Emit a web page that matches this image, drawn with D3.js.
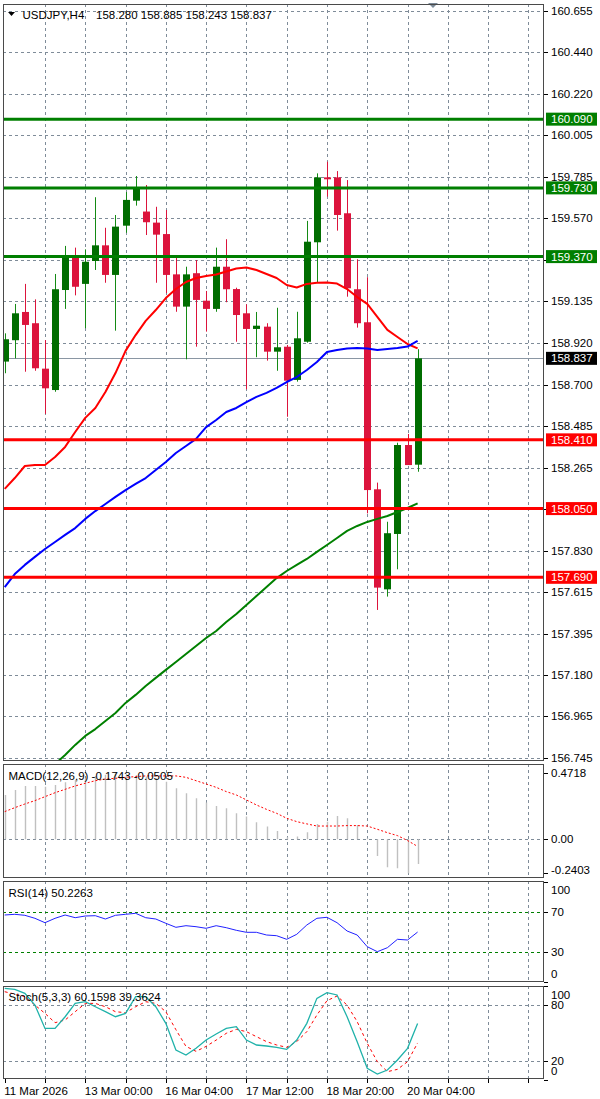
<!DOCTYPE html>
<html><head><meta charset="utf-8">
<script src="https://cdn.jsdelivr.net/npm/d3@7"></script>
<style>
body{margin:0;background:#fff}
svg{display:block}
text{font-family:"Liberation Sans",Arial,sans-serif;font-size:11.5px;fill:#000}
</style>
</head><body>
<svg id="chart" width="600" height="1099"></svg>
<script>
// ---------- DATA ----------
const symbolLabel = "USDJPY,H4";
const lastOHLC = "158.280 158.885 158.243 158.837";
const opens  = [158.820,158.932,159.080,159.021,158.783,158.671,159.195,159.370,159.227,159.347,159.429,159.274,159.532,159.663,159.606,159.548,159.488,159.277,159.108,159.283,159.139,159.096,159.317,159.200,159.073,158.991,159.003,158.872,158.898,158.724,158.924,159.445,159.785,159.785,159.597,159.199,159.026,158.151,157.627,157.917,158.383,158.280];
const highs  = [158.968,159.122,159.227,159.146,158.933,159.279,159.426,159.417,159.408,159.681,159.521,159.588,159.708,159.792,159.745,159.631,159.614,159.375,159.317,159.352,159.190,159.417,159.461,159.207,159.120,159.080,159.021,159.102,158.907,159.081,159.557,159.806,159.867,159.818,159.771,159.356,159.262,158.186,157.981,158.395,158.441,158.885];
const lows   = [158.759,158.837,158.767,158.772,158.546,158.662,159.096,159.167,158.995,159.300,159.233,158.982,159.495,159.637,159.483,159.233,159.179,159.081,158.832,158.898,158.977,159.081,159.131,158.924,158.675,158.843,158.825,158.772,158.531,158.715,158.919,159.233,159.684,159.506,159.160,158.998,158.025,157.519,157.589,157.732,158.278,158.243];
const closes = [158.937,159.073,159.012,158.785,158.680,159.199,159.366,159.212,159.343,159.429,159.274,159.527,159.667,159.728,159.550,159.485,159.274,159.108,159.277,159.143,159.096,159.317,159.199,159.064,158.991,159.008,158.872,158.895,158.720,158.942,159.448,159.785,159.775,159.588,159.204,159.021,158.147,157.636,157.921,158.383,158.278,158.837];

const maRed   = [158.153,158.210,158.273,158.278,158.278,158.320,158.373,158.451,158.525,158.577,158.661,158.760,158.876,158.959,159.033,159.090,159.153,159.200,159.237,159.258,159.268,159.276,159.292,159.308,159.313,159.300,159.279,159.258,159.221,159.208,159.227,159.233,159.234,159.229,159.200,159.158,159.122,159.054,158.986,158.949,158.912,158.889];
const maBlue  = [157.639,157.707,157.755,157.797,157.838,157.875,157.912,157.948,157.996,158.037,158.074,158.111,158.147,158.179,158.210,158.252,158.294,158.341,158.378,158.415,158.477,158.514,158.556,158.577,158.608,158.635,158.656,158.682,158.713,158.739,158.776,158.818,158.870,158.881,158.889,158.891,158.889,158.881,158.886,158.891,158.899,158.928];
const maGreen = [null,null,null,null,null,156.712,156.759,156.812,156.859,156.895,156.937,156.979,157.032,157.074,157.121,157.163,157.205,157.246,157.288,157.330,157.372,157.409,157.456,157.498,157.545,157.592,157.639,157.686,157.723,157.755,157.786,157.823,157.859,157.896,157.933,157.959,157.980,157.996,158.011,158.032,158.053,158.077];

const resistanceLevels = [160.090,159.730,159.370];
const supportLevels    = [158.410,158.050,157.690];
const lastPrice = 158.837;

const priceTicks = [160.655,160.440,160.220,160.005,159.785,159.570,159.350,159.135,158.920,158.700,158.485,158.265,158.050,157.830,157.615,157.395,157.180,156.965,156.745];

const macdLabel = "MACD(12,26,9) -0.1743 -0.0505";
const macdHist   = [0.314,0.349,0.378,0.378,0.373,0.385,0.404,0.420,0.432,0.448,0.458,0.4718,0.465,0.455,0.444,0.432,0.408,0.361,0.326,0.290,0.260,0.236,0.220,0.184,0.161,0.120,0.090,0.059,0.014,0.019,0.050,0.109,0.125,0.165,0.149,0.102,0.007,-0.118,-0.198,-0.205,-0.2403,-0.1743];
const macdSignal = [0.196,0.224,0.250,0.274,0.302,0.330,0.354,0.378,0.397,0.415,0.427,0.432,0.439,0.444,0.449,0.449,0.449,0.449,0.439,0.415,0.392,0.368,0.338,0.314,0.279,0.243,0.212,0.184,0.149,0.125,0.109,0.094,0.094,0.094,0.097,0.097,0.094,0.071,0.047,0.026,-0.009,-0.0505];
const macdTicks = [0.4718, 0.00, -0.2403];

const rsiLabel = "RSI(14) 50.2263";
const rsiValues = [67.3,68,67,64,59.6,64,67.3,64.6,66.3,66.6,63.3,67,68,69,64.6,63.3,59,55,56.6,55.6,54,56.6,54.6,52,50,50,47.3,46.6,43,48,57.3,64,65,59.6,51.3,47.3,35.6,30.6,34.6,43,42.3,50.2263];
const rsiLevels = [70, 30];
const rsiTicks = [100, 70, 30, 0];

const stochLabel = "Stoch(5,3,3) 60.1598 39.3624";
const stochMain   = [97.9,96.8,92.5,80,55,55,67.5,81.8,83.6,78.2,72.9,67.5,71.1,89,89,78.2,60.4,31.8,26.5,33.6,42.5,49,55,56.8,42.5,37.2,36.1,34.7,32.5,42.5,60.4,87.2,93.3,90.8,67.5,40.7,12.2,6.1,10.4,21.1,33.6,60.1598];
const stochSignal = [94.3,91.8,89,80,71.1,61.1,64,72.9,81.8,81.8,78.2,72.9,71.8,78.2,83.6,81.8,72.9,53.6,35.7,30.4,35.7,42.5,49.7,54,51.5,46.1,40.8,37.2,34.7,40.8,51.5,69.3,84.7,89.7,80,62.2,39,19.3,8.6,11.1,19.3,39.3624];
const stochLevels = [80, 20];
const stochTicks = [100, 80, 20, 0];

const timeLabels = ["11 Mar 2026","13 Mar 00:00","16 Mar 04:00","17 Mar 12:00","18 Mar 20:00","20 Mar 04:00"];
const timeLabelBars = [0, 8, 16, 24, 32, 40];

// ---------- LAYOUT ----------
const svg = d3.select("#chart");
const L = 3, R = 544;
const panels = {
  main:  {top:4,   bottom:761},
  macd:  {top:764, bottom:878},
  rsi:   {top:881, bottom:982},
  stoch: {top:986, bottom:1079}
};
const n = closes.length;
const x = d3.scaleLinear().domain([0, n-1]).range([4.7, 417.6]);
const yMain  = d3.scaleLinear().domain([156.745, 160.655]).range([757.7, 11.3]);
const yMacd  = d3.scaleLinear().domain([-0.2403, 0.4718]).range([873.2, 772.7]);
const yRsi   = d3.scaleLinear().domain([0, 100]).range([982.3, 882.3]);
const yStoch = d3.scaleLinear().domain([0, 100]).range([1079.7, 986.4]);

const gridColor = "#7f8c99";
const defs = svg.append("defs");
Object.entries(panels).forEach(([k,p])=>{
  defs.append("clipPath").attr("id","clip-"+k).append("rect")
    .attr("x",L+0.5).attr("y",p.top+0.5).attr("width",R-L-1).attr("height",p.bottom-p.top-1);
});

const gridBars = d3.range(4, 56, 4).filter(i => x(i) < R-2);
const crisp = v => Math.round(v)+0.5;

function panelGrid(key, yTicksPos){
  const p = panels[key];
  const g = svg.append("g").attr("clip-path",`url(#clip-${key})`);
  g.selectAll("line.v").data(gridBars).join("line")
    .attr("x1",d=>crisp(x(d))).attr("x2",d=>crisp(x(d)))
    .attr("y1",p.top).attr("y2",p.bottom)
    .attr("stroke",gridColor).attr("stroke-dasharray","3,3").attr("stroke-width",1);
  g.selectAll("line.h").data(yTicksPos).join("line")
    .attr("x1",L).attr("x2",R).attr("y1",d=>crisp(d)).attr("y2",d=>crisp(d))
    .attr("stroke",gridColor).attr("stroke-dasharray","3,3").attr("stroke-width",1);
  return g;
}

// ---------- MAIN PANEL ----------
const gMain = panelGrid("main", priceTicks.map(yMain));
gMain.append("line").attr("x1",L).attr("x2",R)
  .attr("y1",crisp(yMain(lastPrice))).attr("y2",crisp(yMain(lastPrice)))
  .attr("stroke","#8a96a3").attr("stroke-width",1);

const bars = d3.range(n);
const bull = "#006d00", bear = "#dc143c";
gMain.selectAll("line.wick").data(bars).join("line")
  .attr("x1",i=>crisp(x(i))).attr("x2",i=>crisp(x(i)))
  .attr("y1",i=>yMain(highs[i])).attr("y2",i=>yMain(lows[i]))
  .attr("stroke",i=>closes[i]>=opens[i]?"#148a14":bear).attr("stroke-width",1);
gMain.selectAll("rect.body").data(bars).join("rect")
  .attr("x",i=>Math.round(x(i))-3).attr("width",7)
  .attr("y",i=>yMain(Math.max(opens[i],closes[i])))
  .attr("height",i=>Math.max(1.5, Math.abs(yMain(opens[i])-yMain(closes[i]))))
  .attr("fill",i=>closes[i]>=opens[i]?bull:bear);

const lineMain = arr => d3.line().defined(i=>arr[i]!=null).x(i=>x(i)).y(i=>yMain(arr[i]))(bars);
[[maRed,"#ff0000"],[maBlue,"#0000ff"],[maGreen,"#008000"]].forEach(([arr,c])=>{
  gMain.append("path").attr("d",lineMain(arr)).attr("fill","none")
    .attr("stroke",c).attr("stroke-width",2).attr("stroke-linejoin","round");
});

const lvlG = "#007f00", lvlR = "#ff0000";
gMain.selectAll("line.res").data(resistanceLevels).join("line")
  .attr("x1",L).attr("x2",R).attr("y1",d=>yMain(d)).attr("y2",d=>yMain(d))
  .attr("stroke",lvlG).attr("stroke-width",3);
gMain.selectAll("line.sup").data(supportLevels).join("line")
  .attr("x1",L).attr("x2",R).attr("y1",d=>yMain(d)).attr("y2",d=>yMain(d))
  .attr("stroke",lvlR).attr("stroke-width",3);

// header
svg.append("path").attr("d","M8,12 L15,12 L11.5,16 Z").attr("fill","#000");
svg.append("text").attr("x",22.5).attr("y",15).attr("dy","0.35em").text(symbolLabel);
svg.append("text").attr("x",96).attr("y",15).attr("dy","0.35em").text(lastOHLC);
svg.append("path").attr("d","M428,3 L438,3 L433,8 Z").attr("fill","#7d8b99");

// axis labels
const boxValues = resistanceLevels.concat(supportLevels, [lastPrice]);
function rightAxis(ticks, scale, fmt, clampP, hideNear){
  const g = svg.append("g");
  g.selectAll("line").data(ticks).join("line")
    .attr("x1",R).attr("x2",R+4).attr("y1",d=>crisp(scale(d))).attr("y2",d=>crisp(scale(d)))
    .attr("stroke","#000");
  const shown = hideNear ? ticks.filter(t => !hideNear.some(b => Math.abs(scale(b)-scale(t)) < 10)) : ticks;
  g.selectAll("text").data(shown).join("text")
    .attr("x",551).attr("dy","0.35em")
    .attr("y",d=>{ let v=scale(d); if(clampP){ v=Math.max(clampP.top+9, Math.min(clampP.bottom-8, v)); } return v; })
    .text(fmt);
}
rightAxis(priceTicks, yMain, d=>d.toFixed(3), null, boxValues);

function priceBox(val, color){
  const yy = yMain(val);
  svg.append("rect").attr("x",546).attr("y",yy-6.5).attr("width",51).attr("height",13).attr("fill",color);
  svg.append("text").attr("x",551).attr("y",yy).attr("dy","0.35em").style("fill","#fff").text(val.toFixed(3));
}
resistanceLevels.forEach(v=>priceBox(v,lvlG));
supportLevels.forEach(v=>priceBox(v,lvlR));
priceBox(lastPrice,"#000");

// ---------- MACD ----------
const gMacd = panelGrid("macd", [yMacd(0)]);
gMacd.selectAll("line.hist").data(bars).join("line")
  .attr("x1",i=>crisp(x(i))).attr("x2",i=>crisp(x(i)))
  .attr("y1",yMacd(0)).attr("y2",i=>yMacd(macdHist[i]))
  .attr("stroke","#c0c0c0").attr("stroke-width",1.4);
gMacd.append("path").attr("d",d3.line().x(i=>x(i)).y(i=>yMacd(macdSignal[i]))(bars))
  .attr("fill","none").attr("stroke","#ff0000").attr("stroke-width",1).attr("stroke-dasharray","2,2");
svg.append("text").attr("x",8.5).attr("y",776).attr("dy","0.35em").text(macdLabel);
rightAxis(macdTicks, yMacd, d=>d===0?"0.00":d.toFixed(4), panels.macd);

// ---------- RSI ----------
const gRsi = panelGrid("rsi", []);
gRsi.selectAll("line.lvl").data(rsiLevels).join("line")
  .attr("x1",L).attr("x2",R).attr("y1",d=>crisp(yRsi(d))).attr("y2",d=>crisp(yRsi(d)))
  .attr("stroke","#008000").attr("stroke-dasharray","3,3");
gRsi.append("path").attr("d",d3.line().x(i=>x(i)).y(i=>yRsi(rsiValues[i]))(bars))
  .attr("fill","none").attr("stroke","#2020ff").attr("stroke-width",1);
svg.append("text").attr("x",8.5).attr("y",892.5).attr("dy","0.35em").text(rsiLabel);
rightAxis(rsiTicks, yRsi, d=>String(d), panels.rsi);

// ---------- STOCH ----------
const gSt = panelGrid("stoch", stochLevels.map(yStoch));
gSt.append("path").attr("d",d3.line().x(i=>x(i)).y(i=>yStoch(stochSignal[i]))(bars))
  .attr("fill","none").attr("stroke","#ff0000").attr("stroke-width",1).attr("stroke-dasharray","3,3");
gSt.append("path").attr("d",d3.line().x(i=>x(i)).y(i=>yStoch(stochMain[i]))(bars))
  .attr("fill","none").attr("stroke","#20b2aa").attr("stroke-width",1.3);
svg.append("text").attr("x",8.5).attr("y",997).attr("dy","0.35em").text(stochLabel);
rightAxis(stochTicks, yStoch, d=>String(d), panels.stoch);

// ---------- FRAMES ----------
Object.values(panels).forEach(p=>{
  svg.append("rect").attr("x",L+0.5).attr("y",p.top+0.5).attr("width",R-L-1).attr("height",p.bottom-p.top-1)
    .attr("fill","none").attr("stroke","#4a4a4a").attr("stroke-width",1);
});

// ---------- TIME AXIS ----------
const tickBars = [0].concat(gridBars);
svg.selectAll("line.tt").data(tickBars).join("line")
  .attr("x1",d=>crisp(x(d))).attr("x2",d=>crisp(x(d)))
  .attr("y1",panels.stoch.bottom).attr("y2",panels.stoch.bottom+4).attr("stroke","#000");
svg.selectAll("text.tl").data(timeLabels).join("text")
  .attr("x",(d,k)=>x(timeLabelBars[k])-0.5).attr("y",1091).attr("dy","0.35em").text(d=>d);
</script>
</body></html>
